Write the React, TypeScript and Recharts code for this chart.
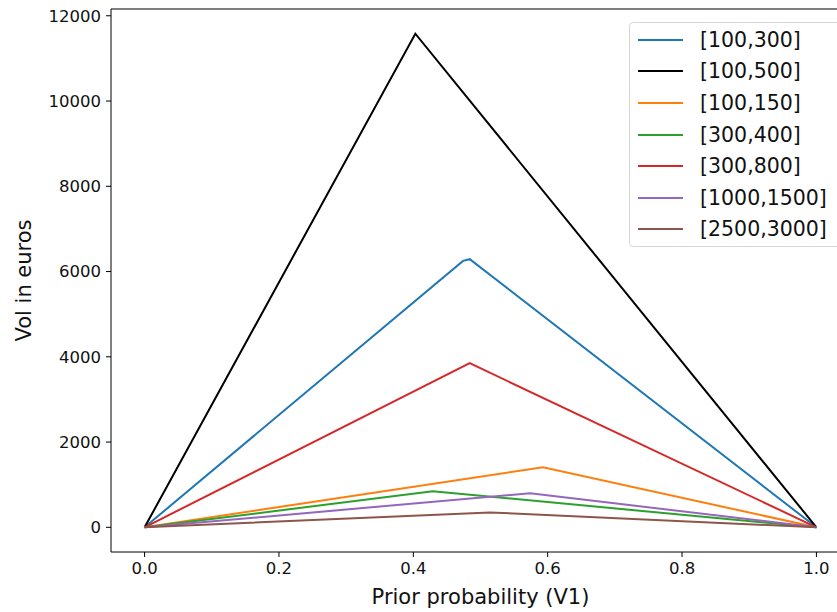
import React from "react";
import { LineChart, Line, XAxis, YAxis, ReferenceLine } from "recharts";

// x = prior probability V1, y = volume in euros
const range100to300 = [
  { p: 0, vol: 0 },
  { p: 0.474, vol: 6250 },
  { p: 0.484, vol: 6290 },
  { p: 1, vol: 0 },
];
const range100to500 = [
  { p: 0, vol: 0 },
  { p: 0.403, vol: 11580 },
  { p: 1, vol: 0 },
];
const range100to150 = [
  { p: 0, vol: 0 },
  { p: 0.593, vol: 1410 },
  { p: 1, vol: 0 },
];
const range300to400 = [
  { p: 0, vol: 0 },
  { p: 0.429, vol: 845 },
  { p: 1, vol: 0 },
];
const range300to800 = [
  { p: 0, vol: 0 },
  { p: 0.484, vol: 3850 },
  { p: 1, vol: 0 },
];
const range1000to1500 = [
  { p: 0, vol: 0 },
  { p: 0.574, vol: 800 },
  { p: 1, vol: 0 },
];
const range2500to3000 = [
  { p: 0, vol: 0 },
  { p: 0.514, vol: 350 },
  { p: 1, vol: 0 },
];

const series = [
  { name: "[100,300]", color: "#1f77b4", data: range100to300 },
  { name: "[100,500]", color: "#000000", data: range100to500 },
  { name: "[100,150]", color: "#ff7f0e", data: range100to150 },
  { name: "[300,400]", color: "#2ca02c", data: range300to400 },
  { name: "[300,800]", color: "#d62728", data: range300to800 },
  { name: "[1000,1500]", color: "#9467bd", data: range1000to1500 },
  { name: "[2500,3000]", color: "#8c564b", data: range2500to3000 },
];

const xTicks = [0, 0.2, 0.4, 0.6, 0.8, 1.0];
const yTicks = [0, 2000, 4000, 6000, 8000, 10000, 12000];

// matplotlib-style 5% padding around the data
const X_MIN = -0.05;
const X_MAX = 1.05;
const Y_MIN = -579;
const Y_MAX = 12159;

const FONT = "'DejaVu Sans', sans-serif";

// legend kept in series order, drawn over the plot's upper right corner
function LegendBox() {
  return (
    <div
      style={{
        position: "absolute",
        left: 629,
        top: 22,
        border: "1px solid #d6d6d6",
        borderRadius: 4,
        background: "rgba(255,255,255,0.85)",
        padding: "1px 0 1px 0",
        width: 214,
        fontFamily: FONT,
      }}
    >
      {series.map((s) => (
        <div
          key={s.name}
          style={{ display: "flex", alignItems: "center", height: 31.6 }}
        >
          <div
            style={{ marginLeft: 8, width: 45, height: 2, background: s.color }}
          />
          <span
            style={{
              marginLeft: 17,
              fontSize: 20.5,
              color: "#111",
              whiteSpace: "nowrap",
            }}
          >
            {s.name}
          </span>
        </div>
      ))}
    </div>
  );
}

export default function App() {
  return (
    <div
      style={{
        position: "fixed",
        left: 0,
        top: 0,
        width: 837,
        height: 612,
        overflow: "hidden",
        background: "#fff",
      }}
    >
      <LineChart
        width={870}
        height={612}
        margin={{ top: 9, right: 20, bottom: 0, left: 0 }}
      >
        <XAxis
          type="number"
          dataKey="p"
          domain={[X_MIN, X_MAX]}
          ticks={xTicks}
          allowDataOverflow
          tickFormatter={(v: number) => v.toFixed(1)}
          height={60}
          stroke="#000"
          tickSize={5}
          tickMargin={5}
          tick={{ fill: "#111", fontSize: 16.5, fontFamily: FONT }}
          label={{
            value: "Prior probability (V1)",
            position: "insideBottom",
            offset: 8,
            style: { fill: "#111", fontSize: 21, fontFamily: FONT },
          }}
        />
        <YAxis
          type="number"
          dataKey="vol"
          domain={[Y_MIN, Y_MAX]}
          ticks={yTicks}
          allowDataOverflow
          width={111}
          stroke="#000"
          tickSize={5}
          tickMargin={5}
          tick={{ fill: "#111", fontSize: 16.5, fontFamily: FONT }}
          label={{
            value: "Vol in euros",
            angle: -90,
            position: "insideLeft",
            offset: 24,
            style: {
              fill: "#111",
              fontSize: 21,
              fontFamily: FONT,
              textAnchor: "middle",
            },
          }}
        />
        {/* top spine */}
        <ReferenceLine y={Y_MAX} stroke="#000" strokeWidth={1} />
        {series.map((s) => (
          <Line
            key={s.name}
            data={s.data}
            dataKey="vol"
            name={s.name}
            type="linear"
            stroke={s.color}
            strokeWidth={2}
            dot={false}
            isAnimationActive={false}
          />
        ))}
      </LineChart>
      <LegendBox />
    </div>
  );
}
